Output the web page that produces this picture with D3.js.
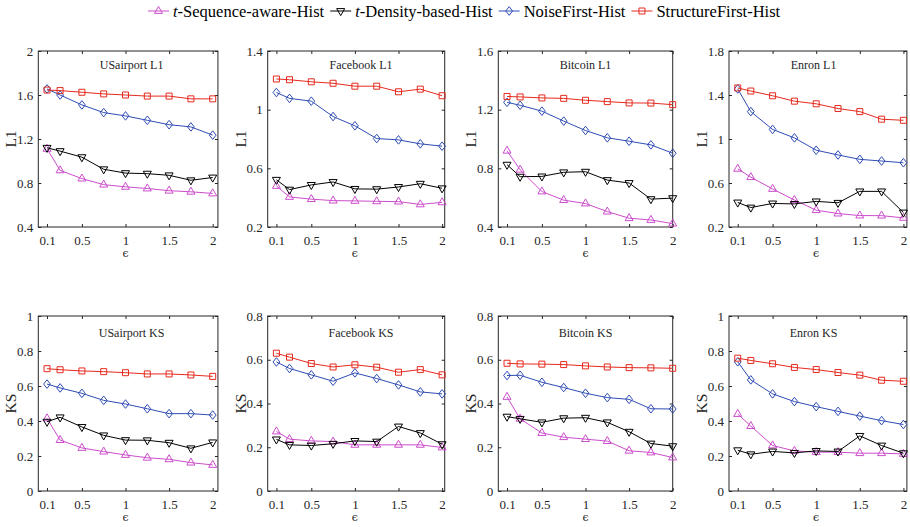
<!DOCTYPE html>
<html><head><meta charset="utf-8">
<script src="https://cdn.jsdelivr.net/npm/d3@7"></script>
<style>body{margin:0;background:#fff}svg{display:block}</style>
</head><body><svg id="c" width="910" height="527"></svg>
<script>
// ---------- data ----------
const epsilon = [0.1,0.25,0.5,0.75,1,1.25,1.5,1.75,2];
const xTicks = [0.1,0.5,1,1.5,2];
const seriesNames = ["t-Sequence-aware-Hist","t-Density-based-Hist","NoiseFirst-Hist","StructureFirst-Hist"];
const seriesColors = ["#CC4DCC","#000000","#2F4CB5","#E62A1E"];
const seriesMarkers = ["triUp","triDown","diamond","square"];
const panelTitles = ["USairport L1","Facebook L1","Bitcoin L1","Enron L1","USairport KS","Facebook KS","Bitcoin KS","Enron KS"];
const yLabels = ["L1","L1","L1","L1","KS","KS","KS","KS"];
const yDomains = [[0.4,2],[0.2,1.4],[0.4,1.6],[0.2,1.8],[0,1],[0,0.8],[0,0.8],[0,1]];
const yTicks = [[0.4,0.8,1.2,1.6,2],[0.2,0.6,1,1.4],[0.4,0.8,1.2,1.6],[0.2,0.6,1,1.4,1.8],
                [0,0.2,0.4,0.6,0.8,1],[0,0.2,0.4,0.6,0.8],[0,0.2,0.4,0.6,0.8],[0,0.2,0.4,0.6,0.8,1]];
const xMax = [2.06,2.03,2.0,2.04];
const titleX = [1.07,1.07,1.0,0.97];

// series order: seq, density, noise, structure
const usairportL1 = [
  [1.11,0.915,0.84,0.785,0.765,0.75,0.73,0.72,0.705],
  [1.12,1.09,1.035,0.925,0.89,0.885,0.87,0.825,0.85],
  [1.655,1.60,1.51,1.44,1.41,1.37,1.33,1.31,1.235],
  [1.645,1.64,1.625,1.61,1.60,1.59,1.59,1.565,1.565]];
const facebookL1 = [
  [0.48,0.405,0.39,0.38,0.378,0.375,0.373,0.354,0.368],
  [0.522,0.455,0.487,0.507,0.46,0.458,0.473,0.495,0.464],
  [1.117,1.077,1.058,0.953,0.89,0.803,0.794,0.767,0.751],
  [1.209,1.204,1.19,1.18,1.16,1.16,1.122,1.14,1.095]];
const bitcoinL1 = [
  [0.92,0.79,0.642,0.583,0.56,0.505,0.46,0.448,0.423],
  [0.825,0.743,0.745,0.773,0.777,0.72,0.70,0.59,0.597],
  [1.25,1.23,1.19,1.122,1.058,1.008,0.985,0.96,0.903],
  [1.29,1.287,1.28,1.277,1.264,1.255,1.246,1.245,1.234]];
const enronL1 = [
  [0.729,0.653,0.546,0.445,0.353,0.322,0.304,0.303,0.283],
  [0.423,0.377,0.414,0.41,0.433,0.42,0.524,0.524,0.332],
  [1.455,1.249,1.087,1.01,0.898,0.855,0.815,0.80,0.784],
  [1.464,1.436,1.393,1.344,1.32,1.277,1.249,1.18,1.17]];
const usairportKS = [
  [0.415,0.291,0.246,0.225,0.206,0.19,0.181,0.162,0.149],
  [0.396,0.421,0.366,0.318,0.291,0.29,0.276,0.244,0.278],
  [0.611,0.589,0.558,0.518,0.497,0.47,0.442,0.442,0.434],
  [0.699,0.693,0.686,0.682,0.676,0.669,0.669,0.663,0.655]];
const facebookKS = [
  [0.272,0.237,0.229,0.226,0.211,0.211,0.211,0.211,0.199],
  [0.236,0.211,0.208,0.216,0.229,0.226,0.295,0.265,0.214],
  [0.59,0.56,0.531,0.502,0.54,0.514,0.485,0.453,0.444],
  [0.63,0.612,0.583,0.567,0.577,0.566,0.543,0.555,0.531]];
const bitcoinKS = [
  [0.43,0.33,0.265,0.246,0.237,0.228,0.184,0.176,0.153],
  [0.34,0.33,0.314,0.333,0.335,0.314,0.271,0.217,0.205],
  [0.528,0.529,0.497,0.473,0.447,0.427,0.419,0.376,0.375],
  [0.584,0.581,0.58,0.578,0.572,0.567,0.564,0.563,0.561]];
const enronKS = [
  [0.44,0.371,0.26,0.229,0.222,0.222,0.216,0.216,0.212],
  [0.233,0.21,0.226,0.218,0.229,0.226,0.315,0.26,0.216],
  [0.738,0.635,0.555,0.511,0.482,0.455,0.428,0.402,0.38],
  [0.759,0.746,0.727,0.706,0.694,0.677,0.662,0.633,0.627]];
const panelData = [usairportL1,facebookL1,bitcoinL1,enronL1,usairportKS,facebookKS,bitcoinKS,enronKS];

// ---------- layout ----------
const FONT = "'Liberation Serif','Times New Roman',serif";
const colLeft = [38.3,267.7,498.3,729];
const pxPerUnit = 87.2;
const rowTop = [51,316], rowBottom = [227,491];
const titleDy = [14,17];

const svg = d3.select("#c");
const fmt = d => String(d);

function markerPath(type){
  switch(type){
    case "triUp": return "M0,-4.6L4,2.4L-4,2.4Z";
    case "triDown": return "M0,4.6L4,-2.4L-4,-2.4Z";
    case "diamond": return "M0,-4.3L3.4,0L0,4.3L-3.4,0Z";
    case "square": return "M-3,-3H3V3H-3Z";
  }
}

panelData.forEach((series,i)=>{
  const col = i%4, row = Math.floor(i/4);
  const x0 = colLeft[col], w = xMax[col]*pxPerUnit;
  const y0 = rowTop[row], y1 = rowBottom[row];
  const x = d3.scaleLinear().domain([0,xMax[col]]).range([x0,x0+w]);
  const y = d3.scaleLinear().domain(yDomains[i]).range([y1,y0]);
  const g = svg.append("g");

  const styleAxis = sel => {
    sel.attr("font-family",FONT);
    sel.selectAll("line").attr("stroke","#262626");
    sel.select(".domain").remove();
    sel.selectAll("text").style("font-family",FONT).attr("font-size",13).attr("fill","#262626");
  };
  g.append("g").attr("transform",`translate(${x0},0)`)
    .call(d3.axisLeft(y).tickValues(yTicks[i]).tickFormat(fmt).tickSize(-3).tickPadding(5)).call(styleAxis);
  g.append("g").attr("transform",`translate(${x0+w},0)`)
    .call(d3.axisRight(y).tickValues(yTicks[i]).tickFormat("").tickSize(-3)).call(styleAxis);
  g.append("g").attr("transform",`translate(0,${y1})`)
    .call(d3.axisBottom(x).tickValues(xTicks).tickFormat(fmt).tickSize(-3).tickPadding(8.5)).call(styleAxis);
  g.append("g").attr("transform",`translate(0,${y0})`)
    .call(d3.axisTop(x).tickValues(xTicks).tickFormat("").tickSize(-3)).call(styleAxis);
  g.append("rect").attr("x",x0).attr("y",y0).attr("width",w).attr("height",y1-y0)
    .attr("fill","none").attr("stroke","#262626").attr("stroke-width",1);

  g.append("text").attr("x",x(titleX[col])).attr("y",y0+titleDy[row]).attr("dy","0.35em")
    .attr("text-anchor","middle").style("font-family",FONT).attr("font-size",12).attr("fill","#262626")
    .text(panelTitles[i]);
  g.append("text").attr("transform",`translate(${x0-27.5},${(y0+y1)/2}) rotate(-90)`)
    .attr("dy","0.35em").attr("text-anchor","middle").style("font-family",FONT).attr("font-size",15.5)
    .attr("fill","#262626").text(yLabels[i]);
  g.append("text").attr("x",x(1)).attr("y",y1+26).attr("dy","0.35em").attr("text-anchor","middle")
    .style("font-family","'DejaVu Serif',"+FONT).attr("font-size",11).attr("fill","#262626").text("\u03F5");

  const line = d3.line().x((d,k)=>x(epsilon[k])).y(d=>y(d));
  series.forEach((vals,s)=>{
    g.append("path").datum(vals).attr("d",line).attr("fill","none")
      .attr("stroke",seriesColors[s]).attr("stroke-width",1);
    g.selectAll(null).data(vals).enter().append("path")
      .attr("transform",(d,k)=>`translate(${x(epsilon[k])},${y(d)})`)
      .attr("d",markerPath(seriesMarkers[s])).attr("fill","none")
      .attr("stroke",seriesColors[s]).attr("stroke-width",1);
  });
});

// ---------- legend ----------
const leg = svg.append("g");
let lx = 148; const ly = 11;
seriesNames.forEach((name,s)=>{
  leg.append("line").attr("x1",lx).attr("x2",lx+21).attr("y1",ly).attr("y2",ly)
    .attr("stroke",seriesColors[s]).attr("stroke-width",1);
  leg.append("path").attr("transform",`translate(${lx+10.5},${ly})`).attr("d",markerPath(seriesMarkers[s]))
    .attr("fill","none").attr("stroke",seriesColors[s]).attr("stroke-width",1);
  const t = leg.append("text").attr("x",lx+25).attr("y",ly).attr("dy","0.35em")
    .style("font-family",FONT).attr("font-size",16.5).attr("fill","#000");
  if(name.startsWith("t-")){
    t.append("tspan").attr("font-style","italic").text("t");
    t.append("tspan").text(name.slice(1));
  } else t.text(name);
  lx += 25 + t.node().getComputedTextLength() + 6;
});
</script></body></html>
